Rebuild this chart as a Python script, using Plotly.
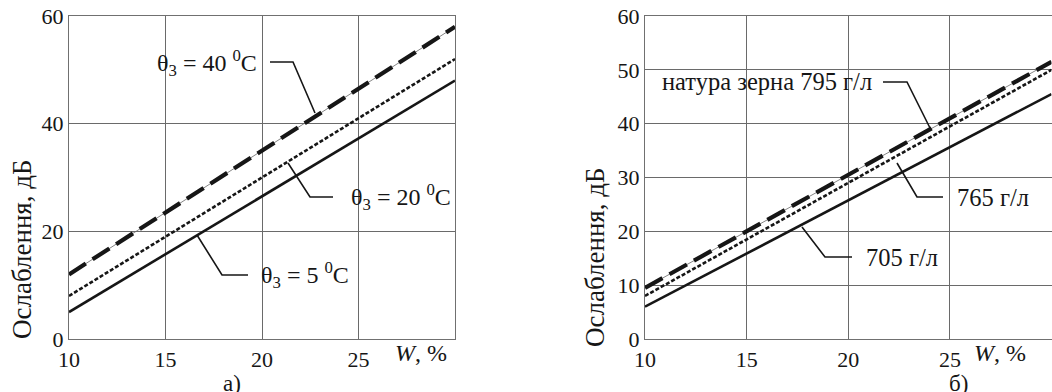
import plotly.graph_objects as go

# ---- data ----
W = [10, 30]
left_40C = [12, 58]
left_20C = [8, 52]
left_5C = [5, 48]
right_795 = [9.5, 51.5]
right_765 = [8, 50]
right_705 = [6, 45.5]

x_ticks = [10, 15, 20, 25]
left_y_ticks = [0, 20, 40, 60]
right_y_ticks = [0, 10, 20, 30, 40, 50, 60]

FONT = "Liberation Serif"
INK = "#161616"
W_FIG, H_FIG = 1052, 392

fig = go.Figure()

def add_set(xa, ya, dashed, dotted, solid):
    fig.add_trace(go.Scatter(x=W, y=dashed, mode="lines", xaxis=xa, yaxis=ya,
                             line=dict(color="#666", width=0.8), showlegend=False, hoverinfo="skip"))
    fig.add_trace(go.Scatter(x=W, y=dashed, mode="lines", xaxis=xa, yaxis=ya,
                             line=dict(color=INK, width=4.2, dash="20px,8px"), showlegend=False))
    fig.add_trace(go.Scatter(x=W, y=dotted, mode="lines", xaxis=xa, yaxis=ya,
                             line=dict(color=INK, width=2.6, dash="4px,2px"), showlegend=False))
    fig.add_trace(go.Scatter(x=W, y=solid, mode="lines", xaxis=xa, yaxis=ya,
                             line=dict(color=INK, width=2.6), showlegend=False))

add_set("x", "y", left_40C, left_20C, left_5C)
add_set("x2", "y2", right_795, right_765, right_705)

def px(x):
    return x / W_FIG

def py(y):
    return 1 - y / H_FIG

axis_common = dict(showgrid=True, gridcolor="#6a6a6a", gridwidth=1, showline=True,
                   linecolor="#707070", linewidth=1.2, mirror=True, zeroline=False,
                   automargin=False, ticklabelstandoff=0,
                   ticks="", tickfont=dict(family=FONT, size=22, color=INK))

fig.update_layout(
    width=W_FIG, height=H_FIG,
    margin=dict(l=0, r=0, t=0, b=0, autoexpand=False),
    paper_bgcolor="white", plot_bgcolor="white",
    showlegend=False,
    font=dict(family=FONT, size=22, color=INK),
    xaxis=dict(domain=[px(69), px(455)], range=[10, 30], tickvals=x_ticks, anchor="y", **axis_common),
    yaxis=dict(domain=[py(339), py(16)], range=[0, 60], tickvals=left_y_ticks, anchor="x", **axis_common),
    xaxis2=dict(domain=[px(645), px(1051.5)], range=[10, 30], tickvals=x_ticks, anchor="y2", **axis_common),
    yaxis2=dict(domain=[py(339), py(16)], range=[0, 60], tickvals=right_y_ticks, anchor="x2", **axis_common),
)

ann = []
def text(x, y, s, size=22, xanchor="center", angle=0):
    ann.append(dict(x=px(x), y=py(y), xref="paper", yref="paper", text=s, showarrow=False,
                    xanchor=xanchor, yanchor="middle", textangle=angle,
                    font=dict(family=FONT, size=size, color=INK)))

# left panel labels
text(207, 63, "θ<sub>3</sub> = 40 <sup>0</sup>C", 24)
text(401, 197, "θ<sub>3</sub> = 20 <sup>0</sup>C", 24)
text(305, 275, "θ<sub>3</sub> = 5 <sup>0</sup>C", 24)
text(421, 353, "<i>W</i>, %", 24)
text(232, 383, "а)", 23)
text(22, 249, "Ослаблення, дБ", 27, angle=-90)

# right panel labels
text(767, 82, "натура зерна 795 г/л", 24.5)
text(993, 197, "765 г/л", 24.5)
text(902, 257, "705 г/л", 24.5)
text(1000, 353, "<i>W</i>, %", 24)
text(958, 383, "б)", 23)
text(595, 257, "Ослаблення, дБ", 27, angle=-90)

fig.update_layout(annotations=ann)

leaders = [
    [(270, 62), (293, 62), (315, 113)],
    [(333, 197), (310, 197), (288, 163)],
    [(248, 275), (222, 275), (197, 235)],
    [(883, 82), (907, 82), (930, 128)],
    [(943, 197), (917, 197), (897, 163)],
    [(852, 257), (825, 257), (802, 227)],
]
shapes = []
for pts in leaders:
    path = "M " + " L ".join(f"{px(a)},{py(b)}" for a, b in pts)
    shapes.append(dict(type="path", path=path, xref="paper", yref="paper",
                       line=dict(color=INK, width=1.6)))
fig.update_layout(shapes=shapes)

fig.write_html("out.html", config={"displayModeBar": False},
               post_script="document.body.style.margin='0';document.body.style.overflow='hidden';")
